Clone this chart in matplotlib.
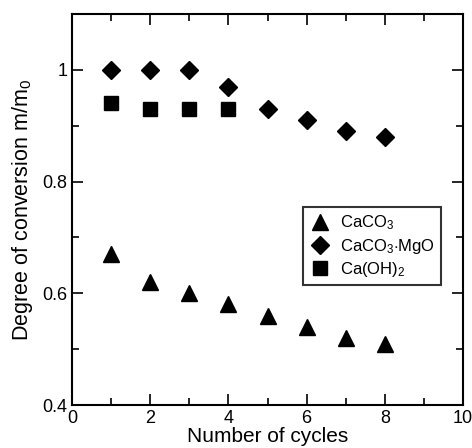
import matplotlib
matplotlib.use("Agg")
import matplotlib.pyplot as plt
from matplotlib.ticker import MultipleLocator

plt.rcParams['font.family'] = ['Liberation Sans', 'DejaVu Sans']
plt.rcParams['mathtext.fontset'] = 'custom'
plt.rcParams['mathtext.rm'] = 'Liberation Sans'
plt.rcParams['mathtext.it'] = 'Liberation Sans'

cycles = [1, 2, 3, 4, 5, 6, 7, 8]
caco3 = [0.67, 0.62, 0.60, 0.58, 0.56, 0.54, 0.52, 0.51]
caco3_mgo = [1.00, 1.00, 1.00, 0.97, 0.93, 0.91, 0.89, 0.88]
cycles_oh = [1, 2, 3, 4]
caoh2 = [0.94, 0.93, 0.93, 0.93]

fig = plt.figure(figsize=(4.72, 4.48), dpi=100)
ax = fig.add_axes([72/472, 1-405/448, (463-72)/472, (405-14)/448])

ax.plot(cycles, caco3, linestyle='none', marker='^', color='black', markersize=12,
        label=r'CaCO$_3$')
ax.plot(cycles, caco3_mgo, linestyle='none', marker='D', color='black', markersize=9.5,
        label=r'CaCO$_3$$\cdot$MgO')
ax.plot(cycles_oh, caoh2, linestyle='none', marker='s', color='black', markersize=10.5,
        label=r'Ca(OH)$_2$')

ax.set_xlim(0, 10)
ax.set_ylim(0.4, 1.1)
ax.xaxis.set_minor_locator(MultipleLocator(1))
ax.yaxis.set_minor_locator(MultipleLocator(0.1))
ax.set_xticks([0, 2, 4, 6, 8, 10])
ax.set_xticklabels(['0', '2', '4', '6', '8', '10'])
ax.set_yticks([0.4, 0.6, 0.8, 1.0])
ax.set_yticklabels(['0.4', '0.6', '0.8', '1'])
ax.tick_params(which='both', direction='in', top=True, right=True, width=1.2,
               labelsize=13)
ax.tick_params(which='major', length=8)
ax.tick_params(which='minor', length=5)
for s in ax.spines.values():
    s.set_linewidth(1.5)

ax.set_xlabel('Number of cycles', fontsize=15, labelpad=0)
ax.set_ylabel(r'Degree of conversion m/m$_0$', fontsize=15.5, labelpad=5)

leg = ax.legend(loc='upper left', bbox_to_anchor=((303-72)/391, (405-207)/391),
                borderaxespad=0, frameon=True, fancybox=False, edgecolor='black',
                fontsize=12, handletextpad=0.6, borderpad=0.4, labelspacing=0.25,
                handlelength=1.2)
leg.get_frame().set_linewidth(1.5)

fig.savefig('out.png', dpi=100)
